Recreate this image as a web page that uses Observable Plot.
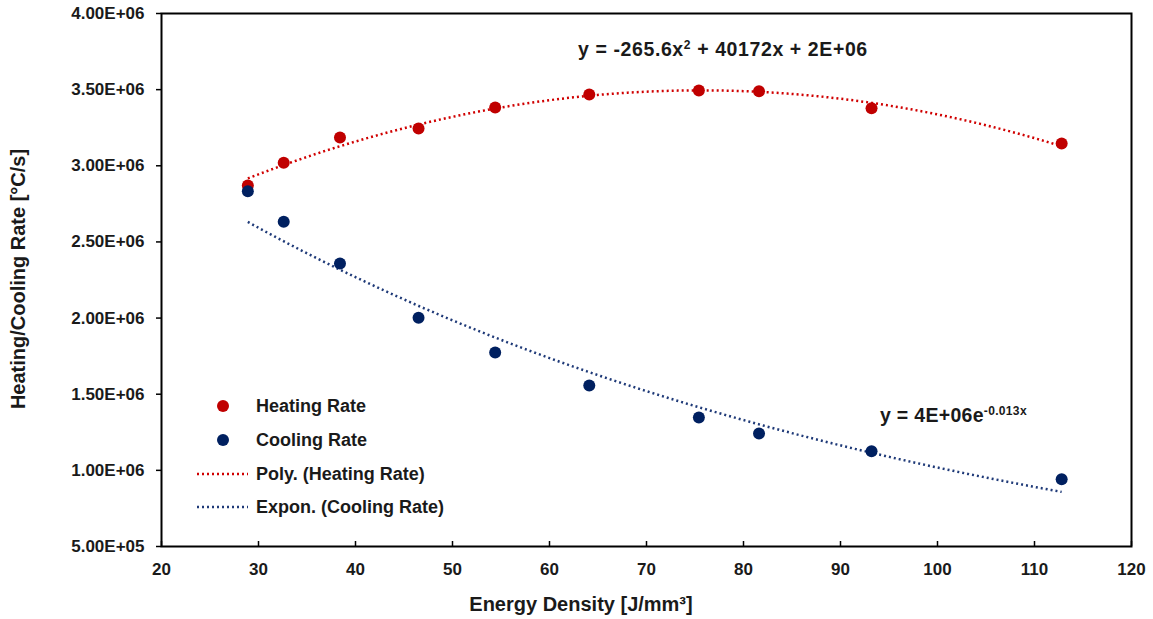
<!DOCTYPE html>
<html><head><meta charset="utf-8">
<script src="https://cdn.jsdelivr.net/npm/d3@7"></script>
<script src="https://cdn.jsdelivr.net/npm/@observablehq/plot@0.6"></script>
<style>
body{margin:0;background:#fff;font-family:"Liberation Sans",Arial,sans-serif;}
#wrap{position:relative;width:1153px;height:619px;overflow:hidden;}
.ov{position:absolute;font-weight:bold;color:#000;white-space:nowrap;}
.ov sup{font-size:0.62em;vertical-align:0;position:relative;top:-0.62em;}
.leg{position:absolute;left:190px;font-weight:bold;font-size:18px;color:#1a1a1a;}
.row{position:absolute;left:0;height:20px;display:flex;align-items:center;white-space:nowrap;}
.row svg{width:60px;height:20px;margin-right:6px;}
</style></head><body><div id="wrap"></div>
<script>
// ---- data ----
const energyDensity = [28.9, 32.6, 38.4, 46.5, 54.4, 64.1, 75.4, 81.6, 93.2, 112.8];
const heatingRate = [2.870e6, 3.020e6, 3.186e6, 3.245e6, 3.383e6, 3.468e6, 3.494e6, 3.490e6, 3.378e6, 3.146e6];
const coolingRate = [2.833e6, 2.632e6, 2.358e6, 2.002e6, 1.774e6, 1.557e6, 1.347e6, 1.242e6, 1.126e6, 0.942e6];
const xTicks = [20, 30, 40, 50, 60, 70, 80, 90, 100, 110, 120];
const yTicks = [5e5, 1e6, 1.5e6, 2e6, 2.5e6, 3e6, 3.5e6, 4e6];
const yTickLabels = ["5.00E+05", "1.00E+06", "1.50E+06", "2.00E+06", "2.50E+06", "3.00E+06", "3.50E+06", "4.00E+06"];
const seriesNames = ["Heating Rate", "Cooling Rate"];
const trendNames = ["Poly. (Heating Rate)", "Expon. (Cooling Rate)"];
const seriesColors = ["#C00000", "#002060"];
const trendColors = ["#D00000", "#1F3A78"];
const equations = ["y = -265.6x<sup>2</sup> + 40172x + 2E+06", "y = 4E+06e<sup>-0.013x</sup>"];
const xTitle = "Energy Density [J/mm³]";
const yTitle = "Heating/Cooling Rate [°C/s]";

// ---- fits (least squares, as the spreadsheet trendlines) ----
function polyFit2(xs, ys) {
  const S = [0,0,0,0,0], T = [0,0,0];
  xs.forEach((x, i) => { for (let k = 0; k < 5; k++) S[k] += x ** k; for (let k = 0; k < 3; k++) T[k] += ys[i] * x ** k; });
  const A = [[S[0],S[1],S[2],T[0]],[S[1],S[2],S[3],T[1]],[S[2],S[3],S[4],T[2]]];
  for (let c = 0; c < 3; c++) {
    for (let r = c + 1; r < 3; r++) { const f = A[r][c] / A[c][c]; for (let k = c; k < 4; k++) A[r][k] -= f * A[c][k]; }
  }
  const b = [0,0,0];
  for (let r = 2; r >= 0; r--) { let s = A[r][3]; for (let k = r + 1; k < 3; k++) s -= A[r][k] * b[k]; b[r] = s / A[r][r]; }
  return x => b[0] + b[1] * x + b[2] * x * x;
}
function expFit(xs, ys) {
  const ly = ys.map(Math.log);
  const mx = d3.mean(xs), my = d3.mean(ly);
  let sxy = 0, sxx = 0;
  xs.forEach((x, i) => { sxy += (x - mx) * (ly[i] - my); sxx += (x - mx) ** 2; });
  const b = sxy / sxx, a = my - b * mx;
  return x => Math.exp(a + b * x);
}
const heatFit = polyFit2(energyDensity, heatingRate);
const coolFit = expFit(energyDensity, coolingRate);
const [xMin, xMax] = d3.extent(energyDensity);
const xs = d3.range(0, 61).map(i => xMin + (xMax - xMin) * i / 60);
const trend = [
  ...xs.map(x => ({x, y: heatFit(x), s: trendNames[0]})),
  ...xs.map(x => ({x, y: coolFit(x), s: trendNames[1]}))
];
const points = [
  ...energyDensity.map((x, i) => ({x, y: heatingRate[i], s: seriesNames[0]})),
  ...energyDensity.map((x, i) => ({x, y: coolingRate[i], s: seriesNames[1]}))
];

const chart = Plot.plot({
  width: 1153, height: 619,
  marginLeft: 161, marginRight: 22, marginTop: 13, marginBottom: 73,
  style: {fontFamily: "'Liberation Sans', Arial, sans-serif", background: "#fff", color: "#000", overflow: "visible"},
  x: {domain: [xTicks[0], xTicks[xTicks.length - 1]]},
  y: {domain: [yTicks[0], yTicks[yTicks.length - 1]]},
  color: {domain: [...seriesNames, ...trendNames], range: [...seriesColors, ...trendColors]},
  marks: [
    Plot.axisY(yTicks, {tickSize: 5, tickPadding: 12, strokeWidth: 1.5, fontSize: 17, fontWeight: "bold", fill: "#1a1a1a",
      tickFormat: d => yTickLabels[yTicks.indexOf(d)], label: null}),
    Plot.axisX(xTicks, {tickSize: -5, tickPadding: 21, strokeWidth: 1.5, fontSize: 17, fontWeight: "bold", fill: "#1a1a1a", label: null}),
    Plot.frame({stroke: "#000", strokeWidth: 2}),
    Plot.line(trend, {x: "x", y: "y", z: "s", stroke: "s", strokeWidth: 2.5, strokeDasharray: "2 3", strokeLinecap: "butt", curve: "natural"}),
    Plot.dot(points, {x: "x", y: "y", fill: "s", r: 6})
  ]
});
const wrap = document.getElementById("wrap");
wrap.appendChild(chart);

function addDiv(html, style, cls = "ov") {
  const d = document.createElement("div");
  d.className = cls; d.innerHTML = html; d.setAttribute("style", style); wrap.appendChild(d); return d;
}
addDiv(xTitle, "left:581px;top:604px;transform:translate(-50%,-50%);font-size:20px;line-height:20px;color:#1a1a1a;");
addDiv(yTitle, "left:18px;top:279px;transform:translate(-50%,-50%) rotate(-90deg);font-size:20px;line-height:20px;color:#1a1a1a;");
addDiv(equations[0], "left:578px;top:40px;font-size:19.5px;line-height:19px;letter-spacing:0.6px;color:#1a1a1a;");
addDiv(equations[1], "left:880px;top:406px;font-size:19.5px;line-height:19px;letter-spacing:0.3px;color:#1a1a1a;");

// legend
const leg = addDiv("", "left:190px;top:0;", "leg");
const rowsY = [406, 440, 474, 507];
const legendItems = [
  {label: seriesNames[0], color: seriesColors[0], type: "dot"},
  {label: seriesNames[1], color: seriesColors[1], type: "dot"},
  {label: trendNames[0], color: trendColors[0], type: "line"},
  {label: trendNames[1], color: trendColors[1], type: "line"}
];
legendItems.forEach((it, i) => {
  const r = document.createElement("div");
  r.className = "row";
  r.style.top = (rowsY[i] - 10) + "px";
  const sym = it.type === "dot"
    ? `<svg viewBox="0 0 60 20"><circle cx="33" cy="10" r="6" fill="${it.color}"/></svg>`
    : `<svg viewBox="0 0 60 20"><line x1="7" x2="58" y1="10" y2="10" stroke="${it.color}" stroke-width="2.5" stroke-dasharray="2 3"/></svg>`;
  r.innerHTML = sym + `<span>${it.label}</span>`;
  leg.appendChild(r);
});
</script>
</body></html>
